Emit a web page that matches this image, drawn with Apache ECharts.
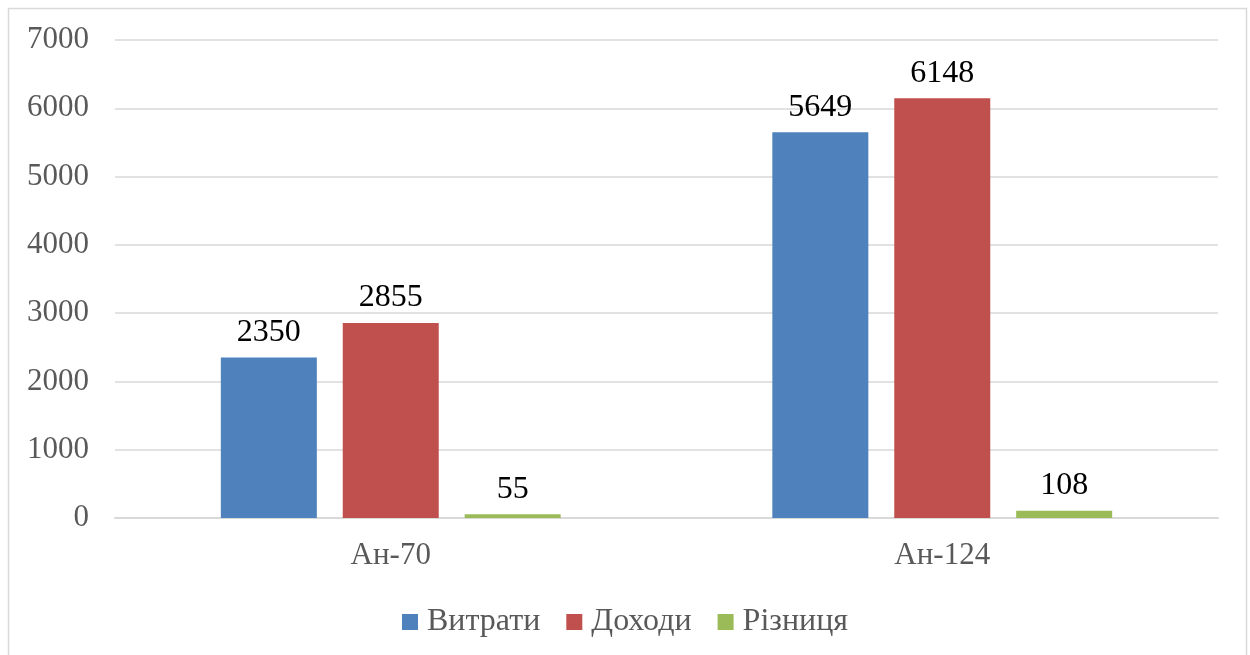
<!DOCTYPE html>
<html>
<head>
<meta charset="utf-8">
<script src="https://cdn.jsdelivr.net/npm/echarts@6/dist/echarts.min.js"></script>
<style>
  html, body { margin: 0; padding: 0; background: #fff; }
  #main { width: 1250px; height: 655px; }
</style>
</head>
<body>
<div id="main"></div>
<script>
var categories = ['Ан-70', 'Ан-124'];
var costs = [2350, 5649];
var incomes = [2855, 6148];
var diff = [55, 108];
var seriesNames = ['Витрати', 'Доходи', 'Різниця'];
var colors = ['#4F81BD', '#C0504D', '#9BBB59'];

var font = '"Liberation Serif", "Times New Roman", serif';

function bar(name, data, color) {
  return {
    name: name,
    type: 'bar',
    data: data,
    barWidth: 96,
    barGap: '27%',
    itemStyle: {color: color},
    label: {
      show: true,
      position: 'top',
      distance: 9,
      color: '#000',
      fontFamily: font,
      fontSize: 32
    }
  };
}

echarts.init(document.getElementById('main')).setOption({
  animation: false,
  color: colors,
  graphic: [{
    type: 'rect',
    shape: {x: 8.5, y: 8.5, width: 1238, height: 700},
    style: {fill: 'none', stroke: '#d9d9d9', lineWidth: 1.5},
    silent: true
  }],
  grid: {left: 115, right: 32, top: 40, bottom: 137},
  legend: {
    bottom: 12,
    left: 'center',
    itemWidth: 16,
    itemHeight: 16,
    itemGap: 26,
    icon: 'rect',
    textStyle: {fontFamily: font, fontSize: 32, color: '#595959', padding: [0, 0, 0, 4]},
    data: seriesNames
  },
  xAxis: {
    type: 'category',
    data: categories,
    axisLine: {lineStyle: {color: '#d9d9d9', width: 2}},
    axisTick: {show: false},
    axisLabel: {fontFamily: font, fontSize: 31, color: '#595959', margin: 22}
  },
  yAxis: {
    type: 'value',
    min: 0,
    max: 7000,
    interval: 1000,
    axisLine: {show: false},
    axisTick: {show: false},
    axisLabel: {
      fontFamily: font, fontSize: 31, color: '#595959', margin: 26,
      formatter: function (v) { return String(v); }
    },
    splitLine: {lineStyle: {color: '#d9d9d9', width: 1.5}}
  },
  series: [
    bar(seriesNames[0], costs, colors[0]),
    bar(seriesNames[1], incomes, colors[1]),
    bar(seriesNames[2], diff, colors[2])
  ]
});
</script>
</body>
</html>
